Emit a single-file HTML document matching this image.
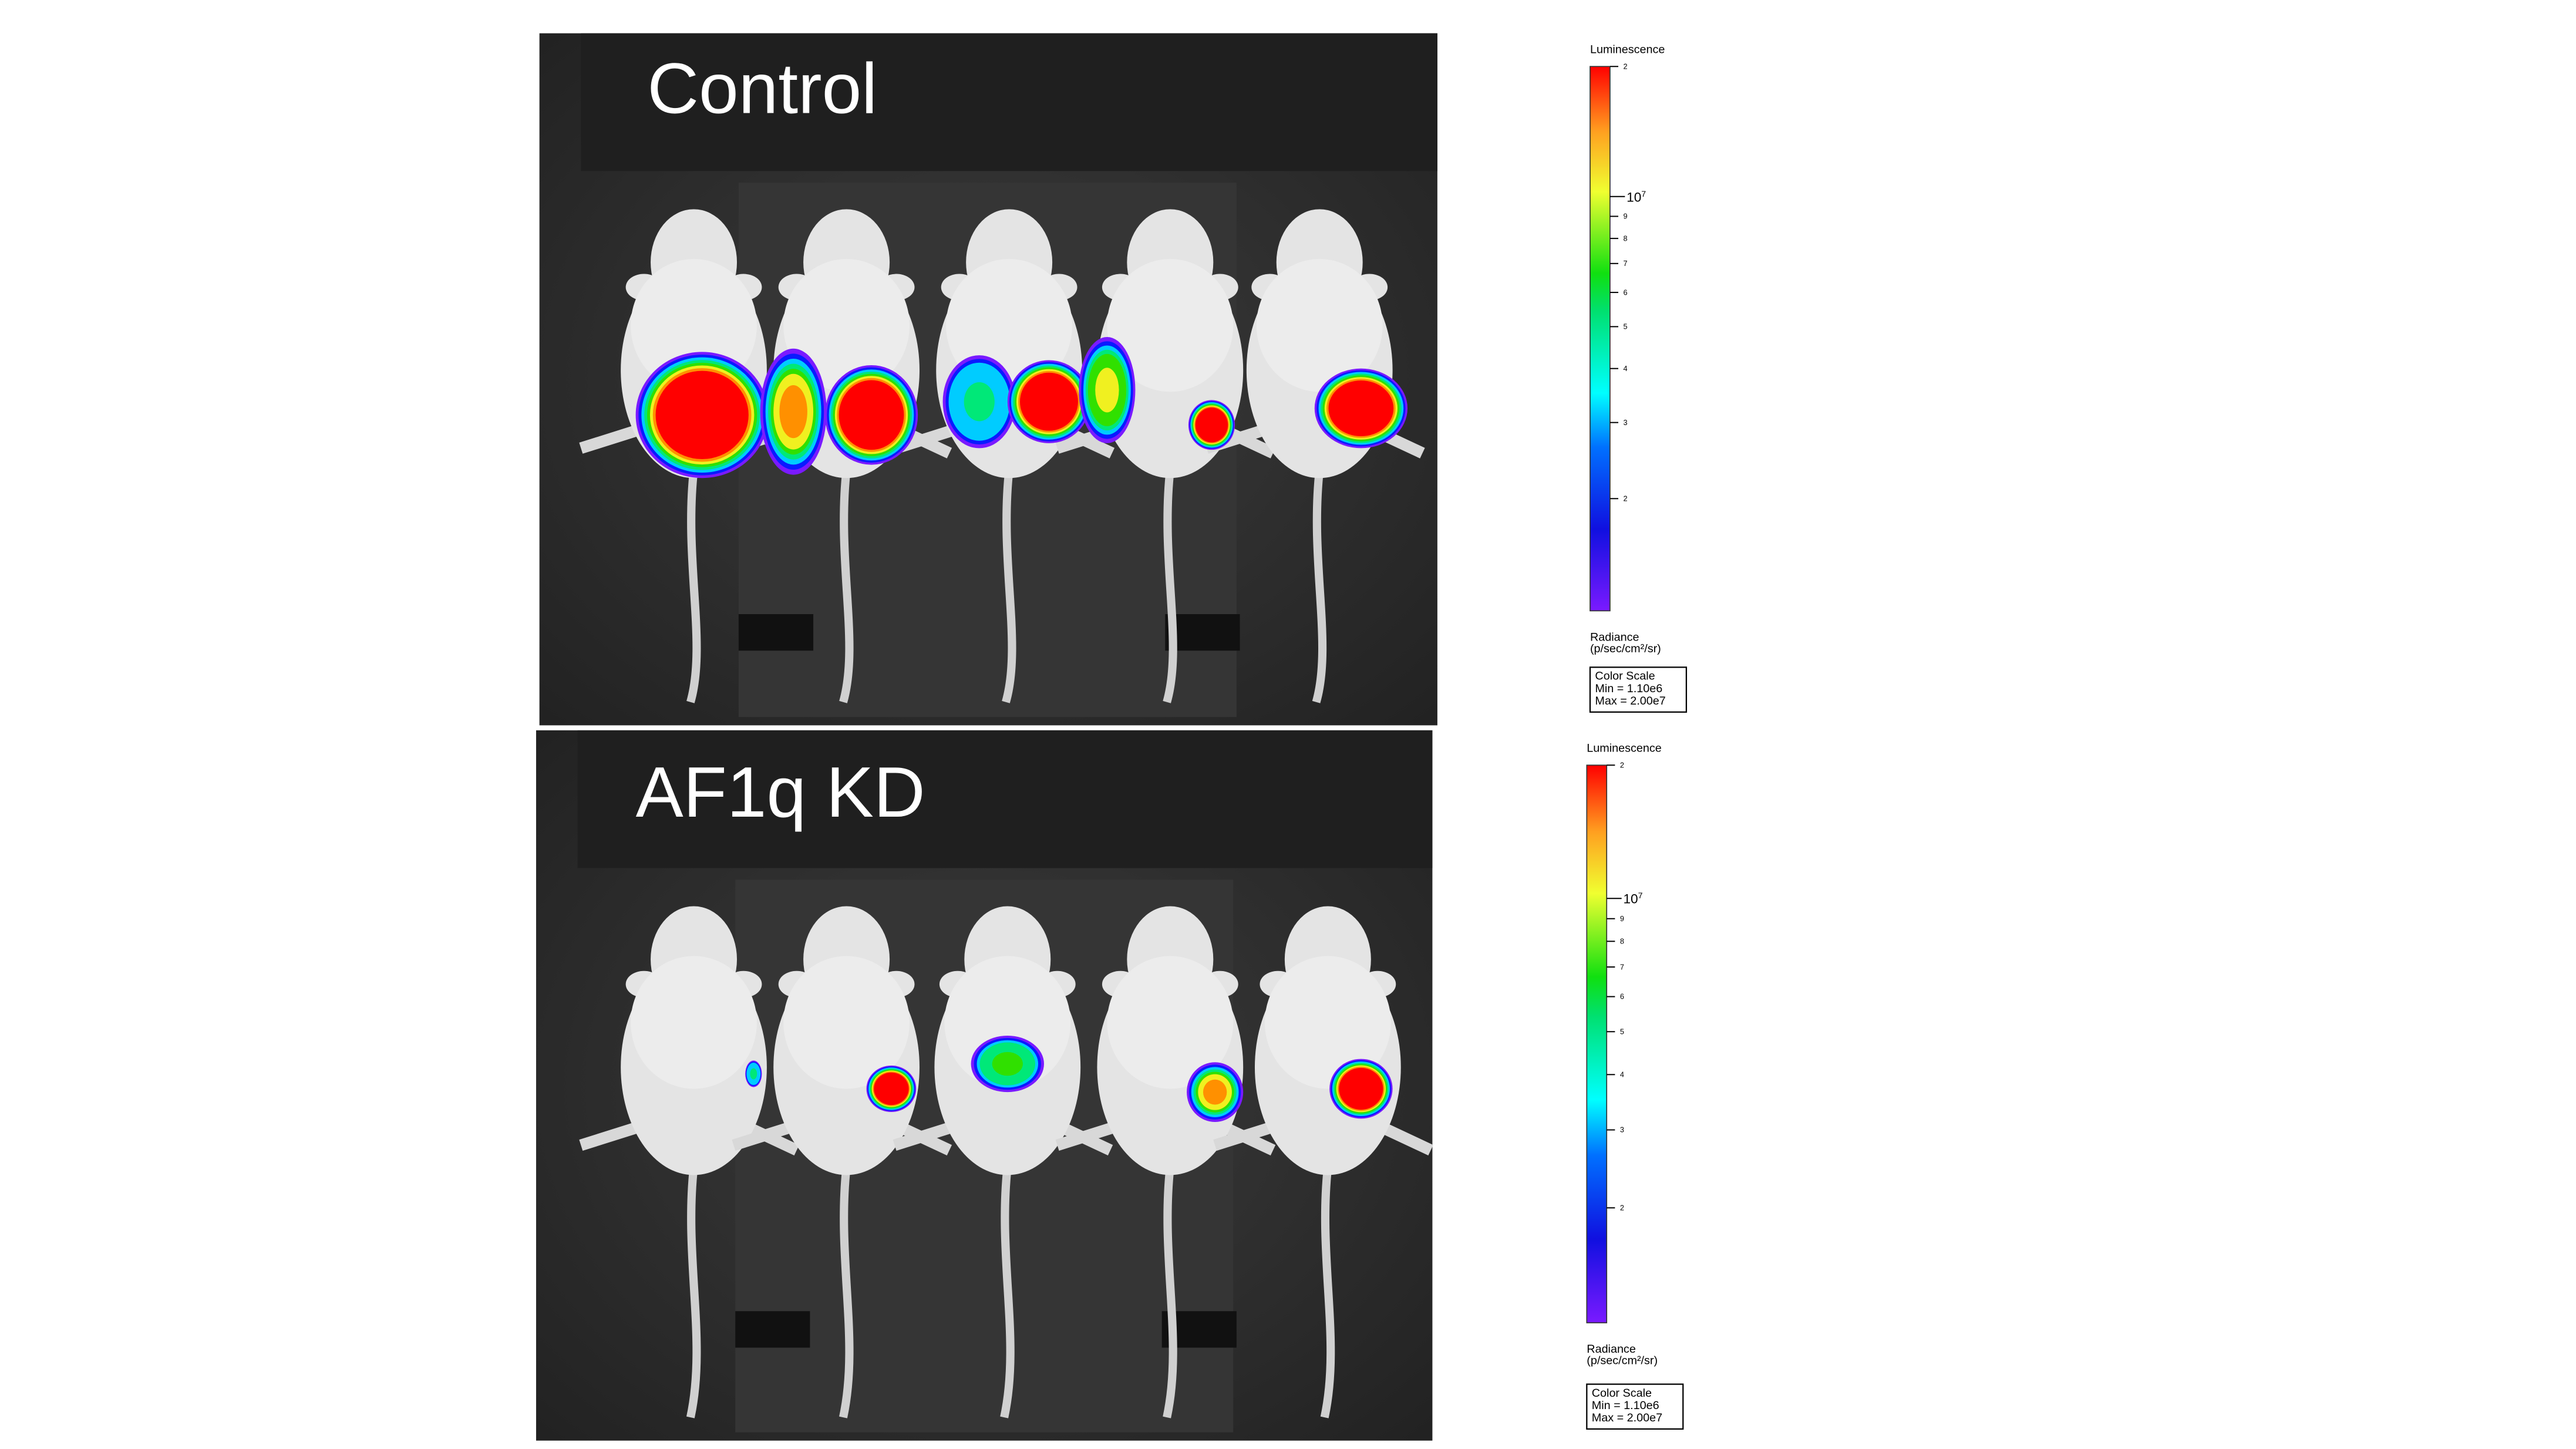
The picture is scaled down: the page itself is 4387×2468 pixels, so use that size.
<!DOCTYPE html>
<html><head><meta charset="utf-8"><style>
html,body{margin:0;padding:0;background:#fff;}
svg{display:block;}
text{font-family:"Liberation Sans",sans-serif;}
</style></head><body>
<svg id="fig" width="4387" height="2468" viewBox="0 0 1552 873" xmlns="http://www.w3.org/2000/svg">
<defs>
<linearGradient id="cmap" x1="0" y1="1" x2="0" y2="0">
<stop offset="0" stop-color="#7a1aff"/>
<stop offset="0.15" stop-color="#1010e0"/>
<stop offset="0.3" stop-color="#0070ff"/>
<stop offset="0.4" stop-color="#00ffff"/>
<stop offset="0.55" stop-color="#00e070"/>
<stop offset="0.62" stop-color="#10e010"/>
<stop offset="0.77" stop-color="#f0ff30"/>
<stop offset="0.88" stop-color="#ffa020"/>
<stop offset="1" stop-color="#ff0000"/>
</linearGradient>
<radialGradient id="vign" cx="0.5" cy="0.5" r="0.7">
<stop offset="0" stop-color="#3c3c3c"/><stop offset="1" stop-color="#222"/>
</radialGradient>
</defs>
<g id="panels"></g>
<g id="bars"></g>
</svg>
<script>
const NS="http://www.w3.org/2000/svg";
// colour-scale data
const scaleMin=1.10e6;
const scaleMax=2.00e7;
const tickValues=[2e6,3e6,4e6,5e6,6e6,7e6,8e6,9e6,1e7,2e7];
const tickLabels=["2","3","4","5","6","7","8","9","10","2"];
// panel data
const panelTitles=["Control","AF1q KD"];
const mouseX=[[418,510,608,705,795],[418,510,607,705,800]];
// signal blobs: x, y offset within panel, rx, ry, intensity(0..1)
const blobX=[[423,478,525,590,632,667,730,820],[454,537,607,732,820]];
const blobY=[[230,228,230,222,222,215,236,226],[207,216,201,218,216]];
const blobRX=[[40,20,28,22,25,17,14,28],[5,15,22,17,19]];
const blobRY=[[38,38,30,28,25,32,15,24],[8,14,17,18,18]];
const blobLevel=[[1,0.85,1,0.5,1,0.75,1,1],[0.5,1,0.6,0.9,1]];

function el(tag,attrs,parent){const e=document.createElementNS(NS,tag);for(const k in attrs)e.setAttribute(k,attrs[k]);parent.appendChild(e);return e;}
const panels=document.getElementById('panels');
const bars=document.getElementById('bars');
const panelBox=[{x:325,y:20,w:541,h:417},{x:323,y:440,w:540,h:428}];
const ringColors=["#7a1aff","#0a1aff","#00ccff","#00e878","#30e000","#f0f020","#ff9000","#ff0000"];

panelBox.forEach((pb,pi)=>{
  const g=el('g',{},panels);
  
  
  el('rect',{x:pb.x,y:pb.y,width:pb.w,height:pb.h,fill:'url(#vign)'},g);
  el('rect',{x:pb.x+120,y:pb.y+90,width:300,height:pb.h-95,fill:'#353535'},g);
  el('rect',{x:pb.x+25,y:pb.y,width:pb.w-25,height:83,fill:'#1f1f1f'},g);
  el('rect',{x:pb.x+120,y:pb.y+350,width:45,height:22,fill:'#111'},g);
  el('rect',{x:pb.x+377,y:pb.y+350,width:45,height:22,fill:'#111'},g);
  const t=el('text',{x:pb.x+(pi===0?65:60),y:pb.y+(pi===0?48:52),fill:'#fff','font-size':43},g);
  t.textContent=panelTitles[pi];
  
  
  const top=pb.y+98;
  mouseX[pi].forEach((cx,mi)=>{
    const m=el('g',{fill:'#e4e4e4',stroke:'none'},g);
    
    
    el('path',{d:`M${cx} ${top+165} C ${cx-6} ${top+220}, ${cx+8} ${top+270}, ${cx-2} ${top+pb.h-112}`,stroke:'#d0d0d0','stroke-width':5,fill:'none'},m);
    el('path',{d:`M${cx-30} ${top+140} L ${cx-68} ${top+152} M${cx+30} ${top+140} L ${cx+62} ${top+155}`,stroke:'#d8d8d8','stroke-width':7,fill:'none'},m);
    el('ellipse',{cx:cx,cy:top+40,rx:26,ry:32},m);
    el('ellipse',{cx:cx-30,cy:top+55,rx:11,ry:8},m);
    el('ellipse',{cx:cx+30,cy:top+55,rx:11,ry:8},m);
    el('ellipse',{cx:cx,cy:top+105,rx:44,ry:65},m);
    el('ellipse',{cx:cx,cy:top+78,rx:38,ry:40,fill:'#ececec'},m);
  });
  blobX[pi].forEach((bx,bi)=>{
    const b=el('g',{},g);
    
    
    const n=Math.max(3,Math.round(blobLevel[pi][bi]*ringColors.length));
    const full=n===ringColors.length;
    const step=full?0.043:0.08;
    for(let k=0;k<n;k++){
      let f=1-k*step;
      if(k===n-1) f=full?0.7:0.42;
      el('ellipse',{cx:bx,cy:pb.y+blobY[pi][bi],rx:blobRX[pi][bi]*f,ry:blobRY[pi][bi]*f,fill:ringColors[k]},b);
    }
  });
});

// colour bars
const barBox=[{x:958,y:40,w:12,h:328,lum:29,rad:384,box:402},{x:956,y:461,w:12,h:336,lum:450,rad:813,box:834}];
function yScale(v,bb){const f=(Math.log10(v)-Math.log10(scaleMin))/(Math.log10(scaleMax)-Math.log10(scaleMin));return bb.y+bb.h-f*bb.h;}
barBox.forEach((bb,i)=>{
  const g=el('g',{},bars);
  
  
  const l=el('text',{x:bb.x,y:bb.lum+3,'font-size':7,fill:'#000'},g);l.textContent='Luminescence';
  el('rect',{x:bb.x,y:bb.y,width:bb.w,height:bb.h,fill:'url(#cmap)',stroke:'#333','stroke-width':0.6},g);
  tickValues.forEach((v,k)=>{
    const y=yScale(v,bb);
    const tk=el('line',{x1:bb.x+bb.w,x2:bb.x+bb.w+(k===8?9:5),y1:y,y2:y,stroke:'#000','stroke-width':0.7},g);
    
    
    const tx=el('text',{x:bb.x+bb.w+(k===8?10:8),y:y+(k===8?3:1.5),'font-size':k===8?8:4.5,fill:'#000'},g);
    if(k===8){tx.textContent='10';const s=el('tspan',{dy:-3,'font-size':5},tx);s.textContent='7';}
    else tx.textContent=tickLabels[k];
  });
  const r1=el('text',{x:bb.x,y:bb.rad+2,'font-size':7,fill:'#000'},g);r1.textContent='Radiance';
  const r2=el('text',{x:bb.x,y:bb.rad+9,'font-size':7,fill:'#000'},g);r2.textContent='(p/sec/cm²/sr)';
  const bx=el('g',{},g);
  
  
  el('rect',{x:bb.x,y:bb.box,width:58,height:27,fill:'#fff',stroke:'#000','stroke-width':0.8},bx);
  ['Color Scale','Min = 1.10e6','Max = 2.00e7'].forEach((s,k)=>{const t=el('text',{x:bb.x+3,y:bb.box+7.5+k*7.5,'font-size':7,fill:'#000'},bx);t.textContent=s;});
});
</script>
</body></html>
